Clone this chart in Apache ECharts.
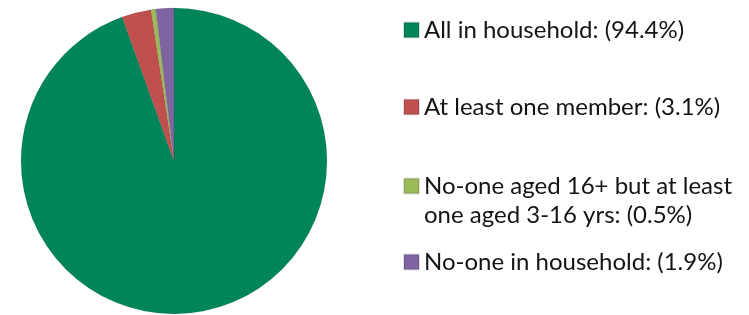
<!DOCTYPE html>
<html>
<head>
<meta charset="utf-8">
<script src="https://cdn.jsdelivr.net/npm/echarts@6/dist/echarts.min.js"></script>
<style>
  html, body { margin: 0; padding: 0; background: #fff; }
  #chart { width: 749px; height: 315px; }
</style>
</head>
<body>
<div id="chart"></div>
<script>
// categories and shares (%)
const categories = [
  'All in household',
  'At least one member',
  'No-one aged 16+ but at least\none aged 3-16 yrs',
  'No-one in household'
];
const shares = [94.4, 3.1, 0.5, 1.9];
const colors = ['#00855B', '#C0504D', '#9BBB59', '#8064A2'];

const chart = echarts.init(document.getElementById('chart'));

const fontFamily = 'Lato, sans-serif';
const lineH = 29;
const legendTops = [15.5, 92.5, 142.5, 247.5];

function legendText(name) {
  const label = name + ': (' + shares[categories.indexOf(name)] + '%)';
  // leading blank line keeps the first text line level with the icon
  return name.indexOf('\n') >= 0 ? ' \n' + label : label;
}

const legends = categories.map((name, i) => ({
  data: [name],
  left: 403,
  top: legendTops[i],
  orient: 'vertical',
  padding: 0,
  itemWidth: 15,
  itemHeight: 15,
  itemGap: 0,
  icon: 'rect',
  selectedMode: false,
  formatter: legendText,
  textStyle: {
    fontFamily: fontFamily,
    fontSize: 24,
    color: '#141414',
    lineHeight: lineH
  }
}));

const option = {
  backgroundColor: '#fff',
  animation: false,
  color: colors,
  legend: legends,
  series: [
    {
      type: 'pie',
      center: [174, 161],
      radius: [0, 153],
      startAngle: 90,
      clockwise: true,
      label: { show: false },
      labelLine: { show: false },
      itemStyle: {
        borderColor: 'rgba(0,0,0,0.12)',
        borderWidth: 0.6
      },
      emphasis: { disabled: true },
      data: categories.map((name, i) => ({ name: name, value: shares[i] }))
    }
  ]
};

chart.setOption(option);
</script>
</body>
</html>
